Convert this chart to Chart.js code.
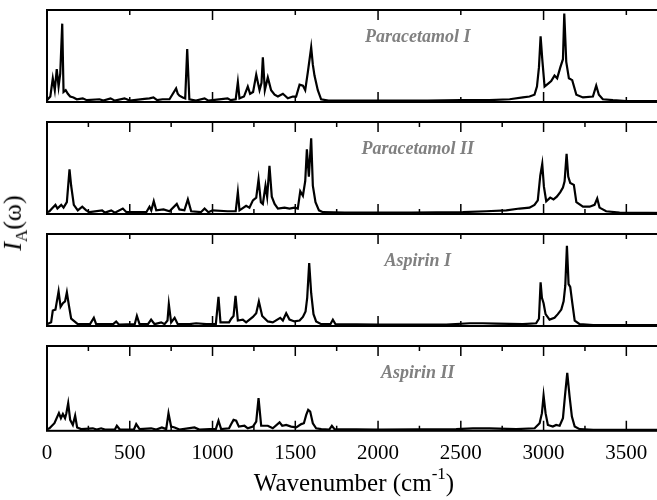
<!DOCTYPE html>
<html>
<head>
<meta charset="utf-8">
<script src="https://cdn.jsdelivr.net/npm/chart.js@4.4.1/dist/chart.umd.min.js"></script>
<style>
  html, body { margin: 0; padding: 0; background: #fff; overflow: hidden; }
  #wrap { position: relative; width: 657px; height: 500px; overflow: hidden; }
  #wrap canvas { position: absolute; left: 0; }
  #xt {
    position: absolute; left: 354px; top: 467px; transform: translateX(-50%);
    font-family: "Liberation Serif", "Times New Roman", serif; font-size: 25px;
    color: #000; white-space: nowrap;
  }
  #xt sup { font-size: 17px; position: relative; top: -3px; }
  #yt {
    position: absolute; left: 15px; top: 223px; transform: translate(-50%, -50%) rotate(-90deg);
    font-family: "Liberation Serif", "Times New Roman", serif; font-size: 26px;
    color: #000; white-space: nowrap;
  }
  #yt sub { font-size: 17px; }
</style>
</head>
<body>
<div id="wrap">
  <canvas id="p0" width="700" height="104" style="top:4px"></canvas>
  <canvas id="p1" width="700" height="104" style="top:116px"></canvas>
  <canvas id="p2" width="700" height="104" style="top:228px"></canvas>
  <canvas id="p3" width="700" height="128" style="top:340px"></canvas>
  <div id="yt"><i>I</i><sub>A</sub>(ω)</div>
  <div id="xt">Wavenumber (cm<sup>-1</sup>)</div>
</div>
<script>
'use strict';

const SERIF = '"Liberation Serif", "Times New Roman", serif';

const xTickValues = [0, 500, 1000, 1500, 2000, 2500, 3000, 3500];
const xTickLabels = ['0', '500', '1000', '1500', '2000', '2500', '3000', '3500'];
const panelNames = ['Paracetamol I', 'Paracetamol II', 'Aspirin I', 'Aspirin II'];

// [wavenumber, intensity] pairs, intensity in panel units (0..1)
const paracetamolI = [
  [0, 0.01], [20, 0.05], [35, 0.25], [47, 0.12], [59, 0.35], [70, 0.16], [80, 0.3], [92, 0.85],
  [100, 0.1], [113, 0.12], [126, 0.08], [140, 0.05], [160, 0.04], [180, 0.02], [216, 0.03],
  [240, 0.01], [317, 0.02], [340, 0.005], [384, 0.03], [410, 0.005], [468, 0.03], [500, 0.005],
  [589, 0.025], [619, 0.03], [643, 0.04], [665, 0.01], [698, 0.02], [740, 0.02], [780, 0.14],
  [790, 0.08], [800, 0.06], [820, 0.04], [835, 0.03], [847, 0.57], [860, 0.02], [900, 0.005],
  [952, 0.03], [975, 0.005], [1000, 0.01], [1091, 0.03], [1110, 0.01], [1140, 0.02], [1153, 0.21],
  [1163, 0.03], [1190, 0.05], [1213, 0.16], [1227, 0.08], [1245, 0.1], [1264, 0.29], [1284, 0.12],
  [1296, 0.2], [1304, 0.48], [1316, 0.12], [1334, 0.26], [1354, 0.12], [1375, 0.07], [1395, 0.05],
  [1425, 0.08], [1455, 0.03], [1485, 0.05], [1505, 0.05], [1526, 0.18], [1546, 0.17], [1560, 0.12],
  [1576, 0.32], [1596, 0.59], [1606, 0.4], [1616, 0.28], [1636, 0.12], [1656, 0.02], [1700, 0.005],
  [2000, 0.005], [2300, 0.005], [2500, 0.01], [2673, 0.01], [2795, 0.02], [2875, 0.04], [2915, 0.05],
  [2945, 0.07], [2960, 0.16], [2972, 0.37], [2982, 0.71], [2992, 0.46], [3006, 0.16], [3026, 0.19],
  [3046, 0.22], [3066, 0.28], [3082, 0.25], [3101, 0.37], [3117, 0.46], [3125, 0.96], [3137, 0.43],
  [3153, 0.25], [3173, 0.23], [3198, 0.07], [3238, 0.04], [3298, 0.05], [3318, 0.17], [3334, 0.07],
  [3358, 0.02], [3419, 0.01], [3500, 0], [3800, 0]
];

const paracetamolII = [
  [0, 0.01], [15, 0.02], [30, 0.05], [51, 0.09], [63, 0.05], [86, 0.09], [100, 0.06], [120, 0.12],
  [136, 0.48], [146, 0.3], [162, 0.09], [186, 0.03], [213, 0.07], [237, 0.03], [257, 0.01],
  [333, 0.03], [350, 0.005], [388, 0.03], [410, 0.005], [458, 0.05], [480, 0.01], [508, 0.01],
  [600, 0.01], [619, 0.07], [630, 0.03], [645, 0.13], [660, 0.03], [704, 0.04], [740, 0.02],
  [784, 0.1], [800, 0.04], [830, 0.03], [851, 0.15], [871, 0.02], [930, 0.01], [952, 0.05],
  [975, 0.01], [1000, 0.03], [1091, 0.02], [1140, 0.02], [1153, 0.23], [1163, 0.03], [1203, 0.08],
  [1223, 0.06], [1244, 0.14], [1264, 0.17], [1278, 0.37], [1292, 0.12], [1304, 0.1], [1320, 0.3],
  [1330, 0.18], [1344, 0.52], [1358, 0.18], [1375, 0.1], [1395, 0.05], [1435, 0.06], [1465, 0.05],
  [1495, 0.06], [1515, 0.05], [1530, 0.24], [1546, 0.19], [1560, 0.35], [1570, 0.7], [1582, 0.4],
  [1596, 0.82], [1606, 0.3], [1622, 0.12], [1643, 0.03], [1667, 0.01], [1800, 0.005], [2200, 0.005],
  [2512, 0.01], [2653, 0.02], [2775, 0.03], [2855, 0.05], [2915, 0.06], [2945, 0.09], [2965, 0.14],
  [2980, 0.41], [2992, 0.54], [3002, 0.29], [3016, 0.13], [3040, 0.17], [3060, 0.15], [3080, 0.18],
  [3101, 0.23], [3117, 0.28], [3127, 0.35], [3139, 0.65], [3149, 0.4], [3161, 0.33], [3183, 0.31],
  [3198, 0.12], [3238, 0.07], [3278, 0.07], [3308, 0.09], [3324, 0.16], [3338, 0.06], [3378, 0.02],
  [3459, 0.005], [3800, 0]
];

const aspirinI = [
  [0, 0.01], [25, 0.03], [35, 0.16], [51, 0.17], [70, 0.37], [82, 0.2], [96, 0.24], [109, 0.26],
  [120, 0.36], [132, 0.22], [146, 0.07], [166, 0.04], [186, 0.01], [260, 0.01], [283, 0.08],
  [297, 0.01], [400, 0.01], [418, 0.04], [435, 0.005], [530, 0.01], [543, 0.1], [559, 0.01],
  [610, 0.01], [629, 0.06], [650, 0.01], [690, 0.03], [710, 0.01], [728, 0.05], [736, 0.23],
  [750, 0.03], [771, 0.08], [790, 0.01], [861, 0.01], [901, 0.02], [962, 0.01], [1020, 0.01],
  [1036, 0.31], [1048, 0.03], [1100, 0.03], [1113, 0.07], [1127, 0.1], [1139, 0.32], [1153, 0.05],
  [1183, 0.06], [1203, 0.03], [1244, 0.09], [1264, 0.13], [1280, 0.26], [1300, 0.1], [1334, 0.04],
  [1364, 0.03], [1409, 0.08], [1425, 0.05], [1445, 0.13], [1465, 0.06], [1495, 0.04], [1526, 0.05],
  [1546, 0.09], [1562, 0.15], [1572, 0.3], [1584, 0.68], [1596, 0.35], [1610, 0.12], [1626, 0.04],
  [1657, 0.01], [1712, 0.01], [1727, 0.06], [1743, 0.01], [2000, 0.005], [2412, 0.005], [2553, 0.02],
  [2633, 0.02], [2714, 0.015], [2875, 0.01], [2955, 0.02], [2972, 0.07], [2982, 0.47], [2990, 0.3],
  [3000, 0.24], [3012, 0.12], [3036, 0.06], [3066, 0.08], [3086, 0.12], [3107, 0.17], [3121, 0.26],
  [3131, 0.43], [3141, 0.87], [3151, 0.45], [3161, 0.42], [3173, 0.25], [3188, 0.05], [3218, 0.01],
  [3300, 0], [3800, 0]
];

const aspirinII = [
  [0, 0.01], [15, 0.02], [45, 0.08], [72, 0.2], [84, 0.14], [96, 0.19], [109, 0.14], [117, 0.2],
  [128, 0.32], [140, 0.12], [156, 0.06], [170, 0.17], [182, 0.03], [206, 0.01], [277, 0.02],
  [300, 0.005], [327, 0.02], [350, 0.005], [410, 0.005], [422, 0.05], [440, 0.005], [525, 0.005],
  [539, 0.07], [559, 0.01], [629, 0.02], [660, 0.005], [694, 0.03], [720, 0.01], [734, 0.2],
  [750, 0.04], [771, 0.03], [800, 0.005], [891, 0.03], [920, 0.005], [982, 0.01], [1020, 0.01],
  [1036, 0.11], [1052, 0.01], [1100, 0.02], [1113, 0.07], [1127, 0.12], [1143, 0.11], [1159, 0.04],
  [1193, 0.05], [1213, 0.02], [1244, 0.04], [1264, 0.1], [1278, 0.38], [1294, 0.05], [1334, 0.05],
  [1364, 0.02], [1405, 0.09], [1421, 0.05], [1445, 0.06], [1475, 0.04], [1506, 0.03], [1536, 0.07],
  [1552, 0.08], [1566, 0.18], [1578, 0.24], [1590, 0.22], [1606, 0.08], [1626, 0.02], [1657, 0.01],
  [1705, 0.005], [1721, 0.05], [1737, 0.01], [2000, 0.005], [2472, 0.01], [2573, 0.02], [2674, 0.02],
  [2835, 0.01], [2946, 0.02], [2976, 0.08], [2990, 0.2], [3000, 0.41], [3012, 0.2], [3026, 0.06],
  [3056, 0.04], [3076, 0.06], [3097, 0.05], [3117, 0.14], [3129, 0.4], [3143, 0.68], [3157, 0.4],
  [3171, 0.16], [3188, 0.04], [3218, 0.01], [3300, 0], [3800, 0]
];

const spectra = [paracetamolI, paracetamolII, aspirinI, aspirinII];
// tick spacing per panel: [major, minor]
const tickSteps = [[1000, 500], [500, 250], [1000, 500], [500, 250]];

const X_MAX = 3800;
const PAD = 6;

// frame, inward ticks on top and bottom edges, and the panel name
const framePlugin = {
  id: 'frame',
  afterDatasetsDraw(chart, args, opts) {
    const { ctx, chartArea: a } = chart;
    const x = chart.scales.x;
    ctx.save();
    ctx.strokeStyle = '#000';
    ctx.lineWidth = 1.5;
    for (let v = opts.minor; v < X_MAX; v += opts.minor) {
      const px = x.getPixelForValue(v);
      const len = v % opts.major === 0 ? 10 : 5;
      ctx.beginPath();
      ctx.moveTo(px, a.top);
      ctx.lineTo(px, a.top + len);
      ctx.moveTo(px, a.bottom);
      ctx.lineTo(px, a.bottom - len);
      ctx.stroke();
    }
    ctx.lineWidth = 2;
    ctx.strokeRect(a.left, a.top, a.right - a.left, a.bottom - a.top);
    ctx.font = 'italic bold 18px ' + SERIF;
    ctx.fillStyle = '#808080';
    ctx.textAlign = 'center';
    ctx.textBaseline = 'middle';
    ctx.fillText(opts.name, x.getPixelForValue(2240), a.top + 27);
    ctx.restore();
  }
};

spectra.forEach((pts, i) => {
  const last = i === spectra.length - 1;
  new Chart(document.getElementById('p' + i), {
    type: 'line',
    data: {
      datasets: [{
        data: pts.map(([x, y]) => ({ x, y })),
        borderColor: '#000',
        borderWidth: 2.2,
        pointRadius: 0,
        tension: 0,
        fill: false
      }]
    },
    options: {
      responsive: false,
      animation: false,
      events: [],
      layout: { padding: { left: 47, right: 24, top: PAD, bottom: last ? 0 : PAD } },
      plugins: {
        legend: { display: false },
        tooltip: { enabled: false },
        frame: { name: panelNames[i], major: tickSteps[i][0], minor: tickSteps[i][1] }
      },
      scales: {
        x: {
          type: 'linear',
          min: 0,
          max: X_MAX,
          display: last,
          grid: { display: false },
          border: { display: false },
          afterBuildTicks: (s) => { s.ticks = xTickValues.map((v) => ({ value: v })); },
          ticks: {
            autoSkip: false,
            maxRotation: 0,
            padding: 2,
            color: '#000',
            font: { family: SERIF, size: 21 },
            callback: (v, k) => xTickLabels[k]
          }
        },
        y: { display: false, min: -0.01, max: 1 }
      }
    },
    plugins: [framePlugin]
  });
});
</script>
</body>
</html>
